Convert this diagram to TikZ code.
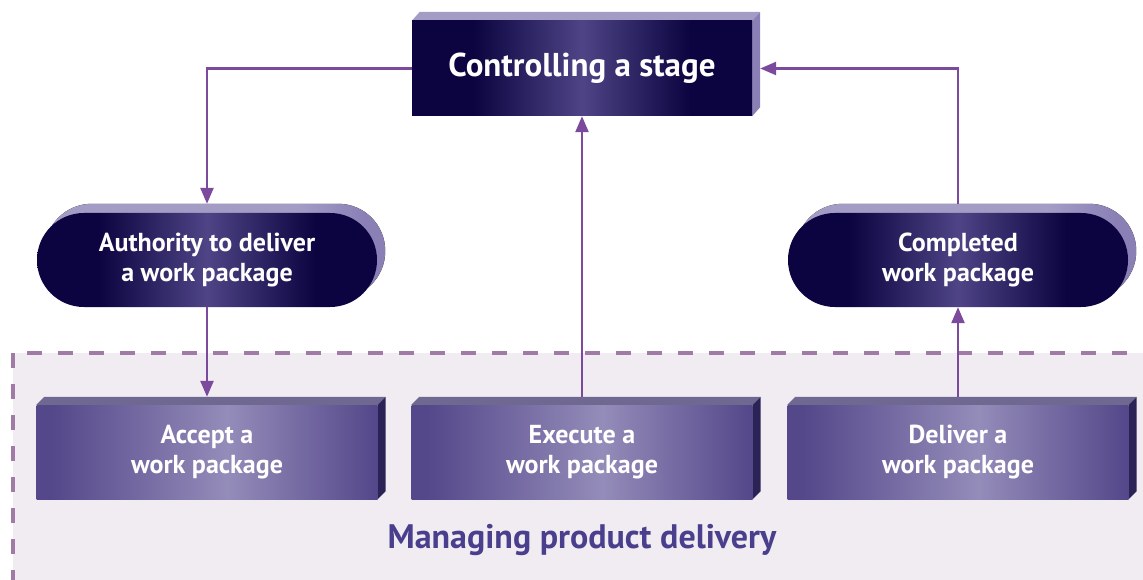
\documentclass[tikz,border=0pt]{standalone}
\usepackage{fontspec}
\setmainfont{PT Sans}
\usetikzlibrary{arrows.meta}
\pgfdeclarelayer{back}
\pgfdeclarelayer{mid}
\pgfsetlayers{back,mid,main}
\definecolor{navy}{HTML}{0B0440}
\definecolor{navymid}{HTML}{4E4486}
\definecolor{lavtop}{HTML}{A39DC6}
\definecolor{lavside}{HTML}{8A80B6}
\definecolor{boxedge}{HTML}{54478A}
\definecolor{boxmid}{HTML}{948CB9}
\definecolor{boxtop}{HTML}{6F6992}
\definecolor{boxside}{HTML}{2B2356}
\definecolor{arrowc}{HTML}{7B4A9C}
\definecolor{dashc}{HTML}{A07BA5}
\definecolor{regionfill}{HTML}{F0ECF2}
\definecolor{labelc}{HTML}{4A3F8C}
\pgfdeclarehorizontalshading{darkshade}{100bp}{color(0bp)=(navy); color(34bp)=(navy); color(50bp)=(navymid); color(66bp)=(navy); color(100bp)=(navy)}
\pgfdeclarehorizontalshading{boxshade}{100bp}{color(0bp)=(boxedge); color(27bp)=(boxedge); color(53bp)=(boxmid); color(75bp)=(boxedge); color(100bp)=(boxedge)}
\pgfdeclarehorizontalshading{backshade}{100bp}{color(0bp)=(lavtop); color(62bp)=(lavtop); color(72bp)=(lavside); color(100bp)=(lavside)}
\tikzset{
  x=1pt, y=-1pt,
  topbox/.style={shading=darkshade, text=white, minimum width=340pt, minimum height=95pt, inner sep=0pt, font=\fontsize{33}{36}\selectfont\bfseries},
  pillbox/.style={shading=darkshade, rounded corners=46.9pt, text=white, minimum width=340pt, minimum height=94pt, inner sep=0pt, align=center, font=\fontsize{26}{30}\selectfont\bfseries},
  procbox/.style={shading=boxshade, text=white, minimum width=341pt, minimum height=94pt, inner sep=0pt, align=center, font=\fontsize{26}{30}\selectfont\bfseries},
  conn/.style={draw=arrowc, line width=2.4pt, -{Triangle[length=16pt,width=13pt]}},
}
\begin{document}
\begin{tikzpicture}
\useasboundingbox (0,0) rectangle (1143,580);
% background and region
\begin{pgfonlayer}{back}
\clip (0,0) rectangle (1143,580);
\fill[white] (0,0) rectangle (1143,580);
\draw[dashc, line width=3.5pt, dash pattern=on 15pt off 16pt, fill=regionfill] (13,353) rectangle (1160,600);
\end{pgfonlayer}
% nodes
\node[topbox] (ctrl) at (582,68.5) {Controlling a stage};
\node[pillbox] (pillL) at (207,260) {Authority to deliver\\a work package};
\node[pillbox] (pillR) at (958,260) {Completed\\work package};
\node[procbox] (accept) at (207,452) {Accept a\\work package};
\node[procbox] (exec) at (582,452) {Execute a\\work package};
\node[procbox] (deliver) at (958,452) {Deliver a\\work package};
\node[font=\fontsize{34}{38}\selectfont\bfseries, text=labelc] (mpd) at (582,540) {Managing product delivery};
% extrusions
\begin{pgfonlayer}{mid}
\fill[lavtop] (ctrl.north west) -- ++(8,-9) -- ([shift={(8,-9)}]ctrl.north east) -- (ctrl.north east) -- cycle;
\fill[lavside] (ctrl.north east) -- ++(8,-9) -- ([shift={(8,-9)}]ctrl.south east) -- (ctrl.south east) -- cycle;
\foreach \p in {pillL,pillR}{
  \fill[shading=backshade, rounded corners=46.9pt] ([shift={(8,-9)}]\p.south west) rectangle ([shift={(8,-9)}]\p.north east);
}
\foreach \b in {accept,exec,deliver}{
  \fill[boxtop] (\b.north west) -- ++(8,-8) -- ([shift={(8,-8)}]\b.north east) -- (\b.north east) -- cycle;
  \fill[boxside] (\b.north east) -- ++(8,-8) -- ([shift={(8,-8)}]\b.south east) -- (\b.south east) -- cycle;
}
\end{pgfonlayer}
% connectors
\draw[conn] (ctrl.west) -| ([yshift=9pt]pillL.north);
\draw[conn] (pillL.south) -- ([yshift=8pt]accept.north);
\draw[conn] ([yshift=8pt]exec.north) -- (ctrl.south);
\draw[conn] ([yshift=8pt]deliver.north) -- (pillR.south);
\draw[conn] ([yshift=9pt]pillR.north) |- ([xshift=8pt]ctrl.east);
\end{tikzpicture}
\end{document}
